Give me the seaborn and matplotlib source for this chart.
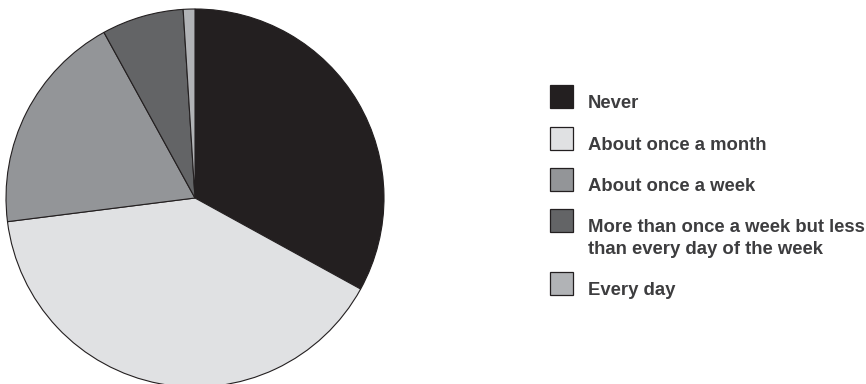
import matplotlib
matplotlib.use("Agg")
import matplotlib.pyplot as plt
from matplotlib.patches import Rectangle
import seaborn as sns

categories = [
    "Never",
    "About once a month",
    "About once a week",
    "More than once a week but less\nthan every day of the week",
    "Every day",
]
shares = [33, 40, 19, 7, 1]
slice_colors = ["#231f20", "#e0e1e3", "#939598", "#636466", "#b1b3b6"]

sns.set_theme(style="white")
plt.rcParams["font.family"] = ["Liberation Sans", "DejaVu Sans"]

W, H = 866, 384
fig = plt.figure(figsize=(W / 100, H / 100), dpi=100)

# pie: centre (195, 198) px from top-left, radius 189 px
cx, cy, r = 195, 198, 189
ax = fig.add_axes([(cx - r) / W, (H - cy - r) / H, 2 * r / W, 2 * r / H])
ax.pie(
    shares,
    colors=slice_colors,
    startangle=90,
    counterclock=False,
    radius=1.0,
    wedgeprops=dict(edgecolor="#231f20", linewidth=0.8),
)
ax.set_xlim(-1, 1)
ax.set_ylim(-1, 1)
ax.set_aspect("equal")
ax.axis("off")

# legend: square swatches with the label baseline level with the swatch bottom
box_bottoms = [108, 150, 191, 232, 295]
size = 23
text_kw = dict(fontsize=13.3, fontweight="bold", color="#3d3d3f",
               ha="left", va="baseline")
for label, color, yb in zip(categories, slice_colors, box_bottoms):
    fig.patches.append(
        Rectangle(
            (550 / W, (H - yb) / H), size / W, size / H,
            transform=fig.transFigure, facecolor=color,
            edgecolor="#231f20", linewidth=0.9,
        )
    )
    for i, line in enumerate(label.split("\n")):
        fig.text(588 / W, (H - yb - 22 * i) / H, line, **text_kw)

fig.savefig("out.png", dpi=100, facecolor="white")
